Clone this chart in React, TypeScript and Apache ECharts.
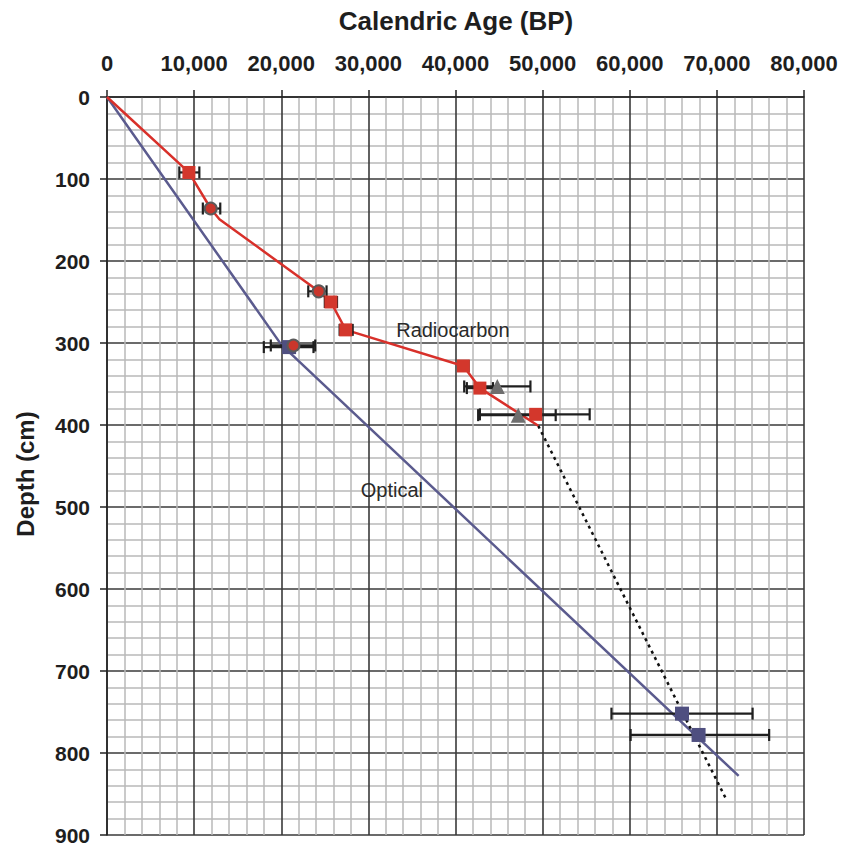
import React, { useEffect, useRef } from "react";
import * as echarts from "echarts";

// ---- data (calendric age BP, depth cm) ----
const radiocarbonLineAge = [0, 9400, 11900, 12900, 24300, 25700, 27400, 40900, 42800, 49500];
const radiocarbonLineDepth = [0, 92, 136, 149, 237, 250, 284, 328, 355, 401];

const extrapAge = [49500, 71100];
const extrapDepth = [401, 857];

const opticalLineAge = [0, 20000, 72500];
const opticalLineDepth = [0, 302, 828];

const redSquareAge = [9400, 25700, 27400, 40900, 42800, 49200];
const redSquareDepth = [92, 250, 284, 328, 355, 387];
const redSquareLow = [8300, 25000, 26700, 40400, 41300, 42800];
const redSquareHigh = [10600, 26400, 28200, 41500, 44300, 55400];

const circleAge = [11900, 24300, 21400];
const circleDepth = [136, 237, 303];
const circleLow = [11000, 23100, 18800];
const circleHigh = [13000, 25200, 23900];

const triangleAge = [44800, 47200];
const triangleDepth = [353, 388];
const triangleLow = [41000, 42600];
const triangleHigh = [48600, 51500];

const opticalAge = [20900, 66000, 67900];
const opticalDepth = [305, 752, 778];
const opticalLow = [18000, 57900, 60100];
const opticalHigh = [23700, 74100, 76000];

const labelTexts = ["Radiocarbon", "Optical"];
const labelAge = [39700, 32700];
const labelDepth = [284, 479];

const FONT = "'Liberation Sans', Arial, Helvetica, sans-serif";

const zip = (a: number[], b: number[]) => a.map((v, i) => [v, b[i]]);

export default function App() {
  const ref = useRef<HTMLDivElement>(null);

  useEffect(() => {
    if (!ref.current) return;
    const chart = echarts.init(ref.current, undefined, { renderer: "svg" });

    const errData: number[][] = [];
    const pushErr = (lo: number[], hi: number[], d: number[]) =>
      lo.forEach((l, i) => errData.push([l, hi[i], d[i]]));
    pushErr(opticalLow, opticalHigh, opticalDepth);
    pushErr(redSquareLow, redSquareHigh, redSquareDepth);
    pushErr(circleLow, circleHigh, circleDepth);
    pushErr(triangleLow, triangleHigh, triangleDepth);

    const axisLabel = {
      fontFamily: FONT,
      fontWeight: "bold" as const,
      color: "#1e1e1e",
    };

    chart.setOption({
      animation: false,
      backgroundColor: "#ffffff",
      grid: { left: 107, top: 97, right: 37, bottom: 11, containLabel: false },
      xAxis: {
        type: "value",
        position: "top",
        min: 0,
        max: 80000,
        interval: 10000,
        axisLine: { show: true, onZero: false, lineStyle: { color: "#222", width: 1.5 } },
        axisTick: { show: true, length: 7, lineStyle: { color: "#222", width: 1.5 } },
        axisLabel: {
          ...axisLabel,
          fontSize: 22,
          margin: 23,
          showMinLabel: true,
          showMaxLabel: true,
          formatter: (v: number) => v.toLocaleString("en-US"),
        },
        splitLine: { show: true, lineStyle: { color: "#3a3a3a", width: 1.6 } },
        minorTick: { show: false, splitNumber: 5 },
        minorSplitLine: { show: true, lineStyle: { color: "#b8b8b8", width: 1.5 } },
      },
      yAxis: {
        type: "value",
        inverse: true,
        min: 0,
        max: 900,
        interval: 100,
        axisLine: { show: true, onZero: false, lineStyle: { color: "#222", width: 1.5 } },
        axisTick: { show: true, length: 7, lineStyle: { color: "#222", width: 1.5 } },
        axisLabel: {
          ...axisLabel,
          fontSize: 21,
          margin: 17,
          showMinLabel: true,
          showMaxLabel: true,
        },
        splitLine: { show: true, lineStyle: { color: "#3a3a3a", width: 1.6 } },
        minorTick: { show: false, splitNumber: 5 },
        minorSplitLine: { show: true, lineStyle: { color: "#b8b8b8", width: 1.5 } },
      },
      graphic: [
        {
          type: "text",
          x: 456,
          y: 21,
          style: {
            text: "Calendric Age (BP)",
            fontFamily: FONT,
            fontWeight: "bold",
            fontSize: 26,
            fill: "#1e1e1e",
            align: "center",
            verticalAlign: "middle",
            textAlign: "center",
            textVerticalAlign: "middle",
          },
        },
        {
          type: "text",
          x: 25,
          y: 474,
          rotation: Math.PI / 2,
          style: {
            text: "Depth (cm)",
            fontFamily: FONT,
            fontWeight: "bold",
            fontSize: 24,
            fill: "#1e1e1e",
            align: "center",
            verticalAlign: "middle",
            textAlign: "center",
            textVerticalAlign: "middle",
          },
        },
      ],
      series: [
        {
          name: "Optical model",
          type: "line",
          data: zip(opticalLineAge, opticalLineDepth),
          symbol: "none",
          lineStyle: { color: "#5b5b8e", width: 2.5 },
          z: 2,
        },
        {
          name: "Extrapolation",
          type: "line",
          data: zip(extrapAge, extrapDepth),
          symbol: "none",
          lineStyle: { color: "#111", width: 2.5, type: [3, 4] },
          z: 2,
        },
        {
          name: "Radiocarbon model",
          type: "line",
          data: zip(radiocarbonLineAge, radiocarbonLineDepth),
          symbol: "none",
          lineStyle: { color: "#d8302a", width: 2.5 },
          z: 3,
        },
        {
          name: "Error bars",
          type: "custom",
          data: errData,
          encode: { x: [0, 1], y: 2 },
          z: 4,
          renderItem: (_params: any, api: any) => {
            const lo = api.coord([api.value(0), api.value(2)]);
            const hi = api.coord([api.value(1), api.value(2)]);
            const h = 6;
            const style = { stroke: "#1f1f1f", lineWidth: 2.2 };
            return {
              type: "group",
              children: [
                { type: "line", shape: { x1: lo[0], y1: lo[1], x2: hi[0], y2: hi[1] }, style },
                { type: "line", shape: { x1: lo[0], y1: lo[1] - h, x2: lo[0], y2: lo[1] + h }, style },
                { type: "line", shape: { x1: hi[0], y1: hi[1] - h, x2: hi[0], y2: hi[1] + h }, style },
              ],
            };
          },
        },
        {
          name: "Optical dates",
          type: "scatter",
          data: zip(opticalAge, opticalDepth),
          symbol: "rect",
          symbolSize: 14,
          itemStyle: { color: "#4f4f80", opacity: 1 },
          z: 5,
        },
        {
          name: "Triangles",
          type: "scatter",
          data: zip(triangleAge, triangleDepth),
          symbol: "triangle",
          symbolSize: 15,
          itemStyle: { color: "#6e6e6e", opacity: 1 },
          z: 5,
        },
        {
          name: "Radiocarbon squares",
          type: "scatter",
          data: zip(redSquareAge, redSquareDepth),
          symbol: "rect",
          symbolSize: 13,
          itemStyle: { color: "#d3372c", opacity: 1 },
          z: 6,
        },
        {
          name: "Radiocarbon circles",
          type: "scatter",
          data: zip(circleAge, circleDepth),
          symbol: "circle",
          symbolSize: 12,
          itemStyle: { color: "#c9362c", borderColor: "#5a5a5a", borderWidth: 2, opacity: 1 },
          z: 6,
        },
        {
          name: "Labels",
          type: "scatter",
          data: labelAge.map((a, i) => [a, labelDepth[i], labelTexts[i]]),
          symbolSize: 0,
          silent: true,
          itemStyle: { opacity: 1 },
          label: {
            show: true,
            position: "inside",
            formatter: (p: any) => p.data[2],
            fontFamily: FONT,
            fontSize: 20,
            color: "#2a2a2a",
          },
          z: 7,
        },
      ],
    });

    return () => chart.dispose();
  }, []);

  return (
    <div
      ref={ref}
      style={{ position: "fixed", left: 0, top: 0, width: 841, height: 846, background: "#fff" }}
    />
  );
}
